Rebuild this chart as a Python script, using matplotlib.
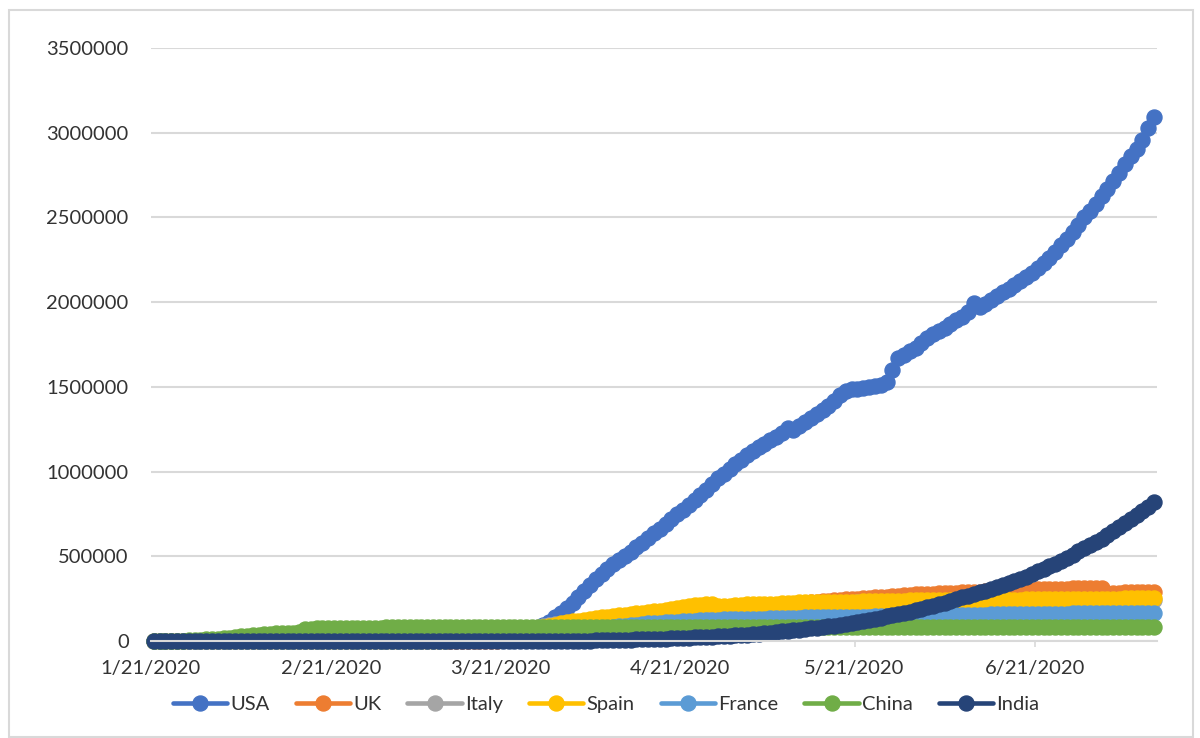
import numpy as np
import pandas as pd
import matplotlib
matplotlib.use("Agg")
import matplotlib.pyplot as plt
from matplotlib.patches import Rectangle
from matplotlib.ticker import FuncFormatter

# Cumulative confirmed cases (thousands), one value per day 1/21/2020 .. 7/11/2020
dates = pd.date_range("2020-01-21", "2020-07-11")

usa = [0.001, 0.001, 0.001, 0.002, 0.002, 0.005, 0.005, 0.005, 0.005, 0.005, 0.006,
       0.007, 0.008, 0.008, 0.011, 0.011, 0.011, 0.011, 0.011, 0.011, 0.011, 0.012, 0.012, 0.013, 0.013,
       0.013, 0.013, 0.013, 0.013, 0.013, 0.013, 0.015, 0.015, 0.035, 0.035, 0.035, 0.053, 0.057, 0.060, 0.062,
       0.07, 0.09, 0.1, 0.13, 0.16, 0.23, 0.34, 0.43, 0.55, 0.75, 1.0, 1.3, 1.7, 2.2, 3.0, 3.8,
       4.7, 6.4, 9.4, 12, 17, 24, 32, 42, 53, 65, 78, 92, 115, 140, 165,
       195, 225, 260, 295, 330, 365, 398, 425, 452, 478, 503, 528, 552, 580, 608,
       636, 664, 692, 720, 748, 776, 804, 832, 860, 893, 928, 960, 988, 1015, 1042,
       1070, 1098, 1124, 1145, 1165, 1185, 1205, 1225, 1255, 1248, 1270, 1292, 1315, 1340, 1362, 1385,
       1415, 1450, 1478, 1485, 1490, 1495, 1500, 1505, 1512, 1530, 1600, 1670, 1690, 1710, 1730,
       1756, 1790, 1810, 1830, 1850, 1870, 1893, 1915, 1940, 1995, 1970, 1990, 2012, 2035, 2058,
       2080, 2102, 2125, 2148, 2172, 2200, 2230, 2262, 2298, 2335, 2375, 2415, 2458, 2500, 2540,
       2580, 2625, 2670, 2715, 2765, 2815, 2860, 2905, 2955, 3025, 3095]

uk = [0, 0, 0, 0, 0, 0, 0, 0, 0, 0, 0,
      0.002, 0.002, 0.002, 0.002, 0.002, 0.002, 0.003, 0.003, 0.003, 0.003, 0.008, 0.008,
      0.009, 0.009, 0.009, 0.009, 0.009, 0.009, 0.009, 0.009, 0.009, 0.009, 0.009, 0.009, 0.009,
      0.013, 0.013, 0.015, 0.020,
      0.023, 0.036, 0.040, 0.051, 0.086, 0.116, 0.164, 0.207, 0.274, 0.322, 0.384, 0.459, 0.459,
      0.802, 1.144, 1.145, 1.551, 1.960, 2.642, 2.716, 4.014, 5.067, 5.745, 6.726, 8.164, 9.640,
      11.812, 14.745, 17.312, 19.780, 22.453,
      25.5, 29.9, 34.2, 38.7, 42.5, 48.4, 52.3, 55.9, 61.5, 65.9, 74.6, 79.9, 85.2, 89.6, 94.8,
      99.5, 104.1, 109.8, 115.3, 121.2, 125.9, 130.2, 134.6, 139.2, 144.6, 149.6, 154.0, 158.3, 162.4, 166.4,
      172.5, 178.7, 183.5, 187.8, 191.8, 196.2, 202.4, 208.0, 212.6, 216.5, 220.4, 224.3, 227.7, 231.0,
      234.4, 238.0, 241.5, 245.0, 247.7, 250.1, 249.6, 252.2, 255.5, 258.5, 260.9, 262.5, 266.6, 268.6,
      270.5, 272.6, 274.8,
      276.3, 278.0, 279.9, 281.7, 283.1, 284.7, 286.3, 287.6, 288.8, 290.1, 291.4, 293.0, 294.4, 295.9,
      296.9, 298.1, 299.3, 300.5, 301.8, 303.1, 304.3, 305.3, 306.2, 306.9, 308.0, 309.4, 310.3, 311.2,
      312.0, 312.7,
      313.5, 314.2, 284.3, 285.4, 286.3, 287.0, 287.3, 287.9, 288.5, 289.2, 289.7]

italy = [0, 0, 0, 0, 0, 0, 0, 0, 0, 0, 0,
         0.002, 0.002, 0.002, 0.002, 0.002, 0.002, 0.002, 0.003, 0.003, 0.003, 0.003, 0.003, 0.003,
         0.003, 0.003, 0.003, 0.003, 0.003, 0.003, 0.003, 0.003, 0.020, 0.062, 0.155, 0.229, 0.322,
         0.453, 0.655, 0.888,
         1.128, 1.694, 2.036, 2.502, 3.089, 3.858, 4.636, 5.883, 7.375, 9.172, 10.149, 12.462, 12.462,
         17.660, 21.157, 24.747, 27.980, 31.506, 35.713, 41.035, 47.021, 53.578, 59.138, 63.927,
         69.176, 74.386, 80.589, 86.498, 92.472, 97.689, 101.739,
         105.8, 110.6, 115.2, 119.8, 124.6, 128.9, 132.5, 135.6, 139.4, 143.6, 147.6, 152.3, 156.4,
         159.5, 162.5, 165.2, 168.9, 172.4, 175.9, 179.0, 181.2, 184.0, 187.3, 190.0, 193.0, 195.4,
         197.7, 199.4, 201.5, 203.6,
         205.5, 207.4, 209.3, 210.7, 211.9, 213.0, 214.5, 215.9, 217.2, 218.3, 219.1, 219.8, 221.2,
         222.1, 223.1, 223.9, 224.8, 225.4, 225.9, 226.7, 227.4, 228.0, 228.7, 229.3, 229.9, 230.2,
         230.6, 231.1, 231.7, 232.2, 232.7,
         233.0, 233.2, 233.5, 233.8, 234.0, 234.5, 234.8, 235.0, 235.3, 235.6, 235.8, 236.1, 236.3,
         236.7, 237.0, 237.3, 237.5, 237.8, 238.0, 238.2, 238.3, 238.5, 238.7, 238.8, 239.4, 239.7,
         240.0, 240.1, 240.3, 240.4,
         240.6, 240.8, 241.0, 241.2, 241.4, 241.6, 241.8, 242.0, 242.1, 242.4, 242.6]

spain = [0, 0, 0, 0, 0, 0, 0, 0, 0, 0, 0,
         0.001, 0.001, 0.001, 0.001, 0.001, 0.001, 0.001, 0.001, 0.002, 0.002, 0.002, 0.002, 0.002,
         0.002, 0.002, 0.002, 0.002, 0.002, 0.002, 0.002, 0.002, 0.002, 0.002, 0.002, 0.006, 0.013,
         0.015, 0.032, 0.045,
         0.12, 0.17, 0.22, 0.26, 0.4, 0.5, 0.67, 1.07, 1.7, 2.3, 2.3, 5.2, 6.4, 7.8, 9.9, 11.7,
         13.9, 18.0, 20.4, 25.4, 28.8, 35.1, 39.9, 49.5, 57.8, 65.7, 73.2, 80.1, 88.0, 95.9, 104.1,
         110, 116, 121, 126, 131, 135, 139, 143, 147, 151, 155, 159, 163, 167, 171,
         175, 180, 185, 190, 195, 200, 205, 210, 214, 217, 219, 206, 208, 209.5, 211,
         215.2, 216.6, 217.5, 218.0, 219.3, 220.3, 221.4, 222.9, 223.6, 224.4, 227.4, 228.0, 228.7,
         229.5, 230.2, 230.7, 231.4, 231.6, 232.0, 232.6, 233.0, 234.8, 235.3, 235.8, 235.4, 236.3,
         237.0, 237.9, 238.6, 239.2, 239.5,
         239.6, 240.3, 240.7, 241.0, 241.3, 241.3, 241.3, 241.7, 242.0, 242.3, 242.7, 243.2, 243.2,
         243.2, 243.6, 244.1, 244.3, 244.7, 245.3, 245.3, 245.3, 246.3, 246.5, 247.1, 247.5, 247.9,
         247.9, 247.9, 248.8, 249.3,
         249.7, 250.1, 250.5, 250.5, 250.5, 251.8, 252.1, 252.5, 253.1, 253.9, 253.9]

france = [0, 0, 0, 0, 0.003, 0.003, 0.003, 0.004, 0.005, 0.005, 0.006,
          0.006, 0.006, 0.006, 0.006, 0.006, 0.006, 0.006, 0.011, 0.011, 0.011, 0.011, 0.011, 0.011,
          0.011, 0.012, 0.012, 0.012, 0.012, 0.012, 0.012, 0.012, 0.012, 0.012, 0.012, 0.018, 0.038,
          0.057, 0.100, 0.130,
          0.19, 0.21, 0.29, 0.42, 0.65, 0.95, 1.1, 1.4, 1.8, 2.3, 2.9, 3.7, 4.5, 5.4, 6.6, 7.7,
          9.1, 10.9, 12.6, 14.5, 16.0, 19.9, 22.3, 25.2, 29.2, 32.9, 37.6, 40.2, 44.5, 48.2, 50.1,
          52.1, 56.9, 59.1, 64.3, 68.6, 70.5, 74.4, 78.2, 82.0, 86.3, 90.7, 93.8, 95.4, 98.1, 103.6,
          106.2, 108.8, 111.8, 112.6, 114.7, 117.3, 119.2, 120.8, 122.6, 124.1, 124.6, 125.8, 127.1,
          128.4, 129.6,
          130.2, 130.9, 131.3, 131.9, 132.9, 134.7, 136.3, 137.2, 137.6, 137.9, 138.3, 139.1, 139.5,
          140.3, 140.7, 141.2, 141.9, 142.4, 142.9, 143.4, 143.8, 144.2, 144.6, 145.0, 145.3, 145.6,
          146.1, 147.7, 148.9, 149.7, 151.3,
          151.8, 152.1, 152.4, 153.0, 153.6, 154.2, 154.6, 154.8, 155.1, 155.6, 156.0, 156.3, 156.8,
          157.2, 157.4, 157.7, 158.2, 158.6, 159.0, 159.5, 159.8, 160.1, 160.4, 160.8, 161.3, 161.9,
          162.5, 162.9, 163.6, 164.3,
          164.4, 164.6, 164.8, 165.0, 165.1, 165.3, 165.5, 165.7, 165.9, 166.1, 166.3]

china = [0.3, 0.6, 0.8, 1.3, 2.0, 2.7, 4.5, 6.0, 7.7, 9.7, 11.8,
         14.4, 17.2, 20.5, 24.4, 28.1, 31.2, 34.6, 37.3, 40.2, 42.7, 44.7, 46.6, 48.5, 50.1, 51.2,
         70.6, 72.5, 74.3, 75.1, 75.9, 76.3, 76.9, 77.2, 77.7, 78.1, 78.5, 78.8, 79.3, 79.8,
         80.0, 80.2, 80.3, 80.4, 80.6, 80.7, 80.7, 80.7, 80.8, 80.8, 80.8, 80.8, 80.8, 80.8, 80.9,
         80.9, 80.9, 80.9, 81.0, 81.0, 81.1, 81.1, 81.2, 81.2, 81.3, 81.3, 81.4, 81.4, 81.5, 81.5, 81.6,
         81.6, 81.6, 81.7, 81.7, 81.7, 81.8, 81.8, 81.9, 81.9, 82.0, 82.1, 82.2, 82.2, 82.3, 82.3,
         82.4, 82.7, 83.4, 83.5, 83.5, 83.6, 83.6, 83.7, 83.7, 83.7, 83.8, 83.8, 83.8, 83.8, 83.9,
         83.9, 83.9, 83.9, 83.9, 84.0, 84.0, 84.0, 84.0, 84.0, 84.0, 84.0, 84.0, 84.0, 84.0, 84.0,
         84.0, 84.1, 84.1, 84.1, 84.1, 84.1, 84.1, 84.1, 84.1, 84.1, 84.1, 84.1, 84.1, 84.1, 84.2, 84.2,
         84.2, 84.2, 84.2, 84.2, 84.2, 84.2, 84.2, 84.2, 84.2, 84.2, 84.2, 84.3, 84.3, 84.4, 84.4,
         84.5, 84.5, 84.6, 84.6, 84.6, 84.7, 84.7, 84.7, 84.7, 84.8, 84.8, 84.8, 84.8, 84.9, 84.9,
         84.9, 85.0, 85.0, 85.0, 85.1, 85.1, 85.2, 85.2, 85.3, 85.4, 85.5]

india = [0, 0, 0, 0, 0, 0, 0, 0, 0, 0, 0.001,
         0.001, 0.001, 0.002, 0.003, 0.003, 0.003, 0.003, 0.003, 0.003, 0.003, 0.003, 0.003, 0.003,
         0.003, 0.003, 0.003, 0.003, 0.003, 0.003, 0.003, 0.003, 0.003, 0.003, 0.003, 0.003, 0.003,
         0.003, 0.003, 0.003,
         0.003, 0.003, 0.005, 0.005, 0.028, 0.030, 0.031, 0.034, 0.039, 0.043, 0.056, 0.062, 0.073,
         0.082, 0.102, 0.113, 0.119, 0.142, 0.156, 0.194, 0.244, 0.330, 0.396, 0.499, 0.536, 0.657,
         0.727, 0.887, 0.987, 1.024, 1.251,
         1.4, 2.0, 2.5, 2.6, 3.1, 3.6, 4.8, 5.3, 5.9, 6.7, 7.6, 8.4, 9.2, 10.5, 11.5, 12.3, 13.4,
         14.4, 15.7, 17.6, 18.5, 20.1, 21.4, 23.1, 24.5, 26.3, 27.9, 29.5, 31.3, 33.1,
         34.9, 37.3, 39.7, 42.5, 46.4, 49.4, 53.0, 56.4, 59.7, 62.8, 67.2, 70.8, 74.3, 78.1, 82.0,
         85.8, 90.6, 95.7, 100.3, 106.5, 112.0, 118.2, 124.8, 131.4, 138.5, 145.0, 150.8, 158.1,
         165.4, 173.5, 181.8,
         190.6, 198.4, 207.2, 216.8, 226.7, 236.2, 246.6, 257.5, 265.9, 276.1, 286.6, 297.5, 309.0,
         320.9, 332.4, 343.1, 354.1, 367.3, 380.5, 395.0, 410.5, 425.3, 440.2, 456.2, 473.1, 490.4,
         509.0, 528.9, 548.3, 566.8,
         585.5, 604.6, 625.5, 648.3, 673.2, 697.4, 719.7, 742.4, 767.3, 793.8, 820.9]

countries = ["USA", "UK", "Italy", "Spain", "France", "China", "India"]
series = [usa, uk, italy, spain, france, china, india]
colors = ["#4472C4", "#ED7D31", "#A5A5A5", "#FFC000", "#5B9BD5", "#70AD47", "#264478"]

plt.rcParams["font.family"] = ["Lato", "DejaVu Sans"]
text_col = "#333333"
grid_col = "#D9D9D9"

fig = plt.figure(figsize=(12, 7.38), dpi=100)
ax = fig.add_axes([0.1258, 0.1314, 0.8383, 0.8036])

x = np.arange(len(dates))
for name, vals, c in zip(countries, series, colors):
    ax.plot(x, np.array(vals) * 1000, color=c, lw=3.3, marker="o", ms=10.8,
            mec=c, mfc=c, label=name, solid_capstyle="round", clip_on=False)

ax.set_xlim(-0.5, len(dates) - 0.5)
ax.set_ylim(0, 3500000)
ax.set_yticks(np.arange(0, 3500001, 500000))
ax.yaxis.set_major_formatter(FuncFormatter(lambda v, p: f"{int(v)}"))
ax.grid(axis="y", color=grid_col, lw=1.5)
ax.set_axisbelow(True)

tick_idx = [i for i, d in enumerate(dates) if d.day == 21]
ax.set_xticks([i - 0.5 for i in tick_idx])
ax.set_xticklabels([f"{dates[i].month}/{dates[i].day}/{dates[i].year}" for i in tick_idx])

for s in ["top", "right", "left"]:
    ax.spines[s].set_visible(False)
ax.spines["bottom"].set_color(grid_col)
ax.spines["bottom"].set_linewidth(1.5)
ax.tick_params(axis="y", length=0, pad=16, labelsize=14.5, labelcolor=text_col)
ax.tick_params(axis="x", length=4.5, width=1.2, color=grid_col, pad=9,
               labelsize=14.5, labelcolor=text_col)

fig.legend(loc="center", bbox_to_anchor=(0.505, 0.045), ncol=7, frameon=False,
           handlelength=2.7, handletextpad=0.15, columnspacing=1.3,
           prop={"size": 14.5}, labelcolor=text_col)

fig.patches.append(Rectangle((0.0075, 0.0014), 0.9865, 0.985, transform=fig.transFigure,
                             fill=False, edgecolor=grid_col, lw=1.5))

fig.savefig("out.png", dpi=100)
